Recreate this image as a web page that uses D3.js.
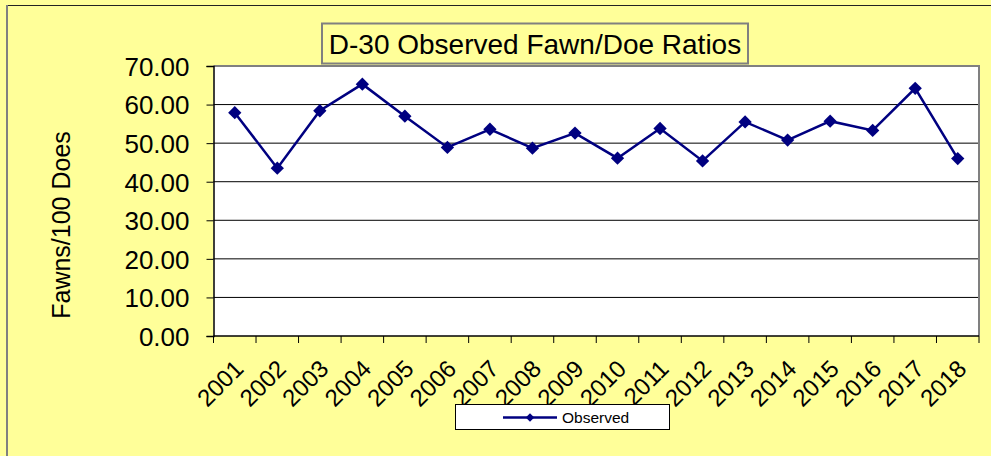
<!DOCTYPE html>
<html><head><meta charset="utf-8">
<script src="https://cdn.jsdelivr.net/npm/d3@7"></script>
<style>html,body{margin:0;padding:0;background:#FFFF99;} svg{display:block;font-family:Arial,"Liberation Sans",sans-serif;}</style>
</head><body>
<svg id="c" width="991" height="456"></svg>
<script>
const years = ["2001","2002","2003","2004","2005","2006","2007","2008","2009","2010","2011","2012","2013","2014","2015","2016","2017","2018"];
const observed = [57.9,43.5,58.4,65.3,57.0,48.9,53.6,48.7,52.6,46.1,53.8,45.4,55.5,50.8,55.7,53.3,64.2,46.0];
const yTicks = [0,10,20,30,40,50,60,70];
const title = "D-30 Observed Fawn/Doe Ratios";
const yTitle = "Fawns/100 Does";
const seriesName = "Observed";

const svg = d3.select("#c");
const L = 213.5, R = 979, T = 66, B = 336;
const navy = "#000080";

// background and outer frame
svg.append("rect").attr("x",0).attr("y",0).attr("width",991).attr("height",456).attr("fill","#FFFF99");
svg.append("line").attr("x1",7).attr("x2",991).attr("y1",5.5).attr("y2",5.5).attr("stroke","#222").attr("stroke-width",1);
svg.append("line").attr("x1",7).attr("x2",7).attr("y1",5).attr("y2",456).attr("stroke","#808080").attr("stroke-width",2);

const x = d3.scaleBand().domain(years).range([L,R]).padding(0);
const y = d3.scaleLinear().domain([0,70]).range([B,T]);

// plot area
svg.append("rect").attr("x",L).attr("y",T).attr("width",R-L).attr("height",B-T).attr("fill","#fff");
// gridlines
svg.append("g").selectAll("line").data(yTicks.filter(d=>d>0 && d<70)).join("line")
  .attr("x1",L).attr("x2",R).attr("y1",d=>y(d)).attr("y2",d=>y(d)).attr("stroke","#000").attr("stroke-width",1);
// plot border top/right
svg.append("path").attr("d",`M${L},${T}H${R}V${B}`).attr("fill","none").attr("stroke","#808080").attr("stroke-width",2);

// y axis
const ya = svg.append("g").attr("transform",`translate(${L},0)`)
  .call(d3.axisLeft(y).tickValues(yTicks).tickSize(7).tickPadding(17).tickFormat(d3.format(".2f")));
ya.select(".domain").attr("stroke","#000").attr("stroke-width",1.5);
ya.selectAll(".tick line").attr("stroke","#000");
ya.selectAll("text").attr("font-size",26).attr("fill","#000").attr("font-family","Arial,'Liberation Sans',sans-serif").attr("dy","0.36em");

// x axis
svg.append("line").attr("x1",L).attr("x2",R).attr("y1",B).attr("y2",B).attr("stroke","#000").attr("stroke-width",1.5);
const bounds = years.map(d=>x(d)).concat([R]);
svg.append("g").selectAll("line").data(bounds).join("line")
  .attr("x1",d=>d).attr("x2",d=>d).attr("y1",B).attr("y2",B+7).attr("stroke","#000");
svg.append("g").selectAll("text").data(years).join("text")
  .attr("transform",d=>`translate(${x(d)+x.bandwidth()/2-2},${B+22}) rotate(-45)`)
  .attr("text-anchor","end").attr("dy","0.72em").attr("font-size",24).attr("fill","#000").text(d=>d);

// y title
svg.append("text").attr("transform","translate(70,225) rotate(-90)").attr("text-anchor","middle")
  .attr("font-size",25).attr("fill","#000").text(yTitle);

// series
const cx = d=>x(d)+x.bandwidth()/2;
const data = years.map((yr,i)=>({yr, v:observed[i]}));
svg.append("path").datum(data).attr("fill","none").attr("stroke",navy).attr("stroke-width",2.5)
  .attr("d",d3.line().x(d=>cx(d.yr)).y(d=>y(d.v)));
svg.append("g").selectAll("rect").data(data).join("rect")
  .attr("x",-4.7).attr("y",-4.7).attr("width",9.4).attr("height",9.4)
  .attr("transform",d=>`translate(${cx(d.yr)},${y(d.v)}) rotate(45)`).attr("fill",navy);

// title box
svg.append("rect").attr("x",322).attr("y",23.5).attr("width",426).attr("height",40).attr("fill","#FFFF99").attr("stroke","#808080").attr("stroke-width",2);
svg.append("text").attr("x",535).attr("y",54).attr("text-anchor","middle").attr("font-size",28).attr("fill","#000").text(title);

// legend
svg.append("rect").attr("x",455.5).attr("y",404.5).attr("width",214).attr("height",25).attr("fill","#fff").attr("stroke","#000").attr("stroke-width",1);
svg.append("line").attr("x1",503).attr("x2",557).attr("y1",417.5).attr("y2",417.5).attr("stroke",navy).attr("stroke-width",2.5);
svg.append("rect").attr("x",-3).attr("y",-3).attr("width",6).attr("height",6).attr("transform","translate(530,417.5) rotate(45)").attr("fill",navy);
svg.append("text").attr("x",562).attr("y",423).attr("font-size",15.5).attr("fill","#000").text(seriesName);
</script>
</body></html>
